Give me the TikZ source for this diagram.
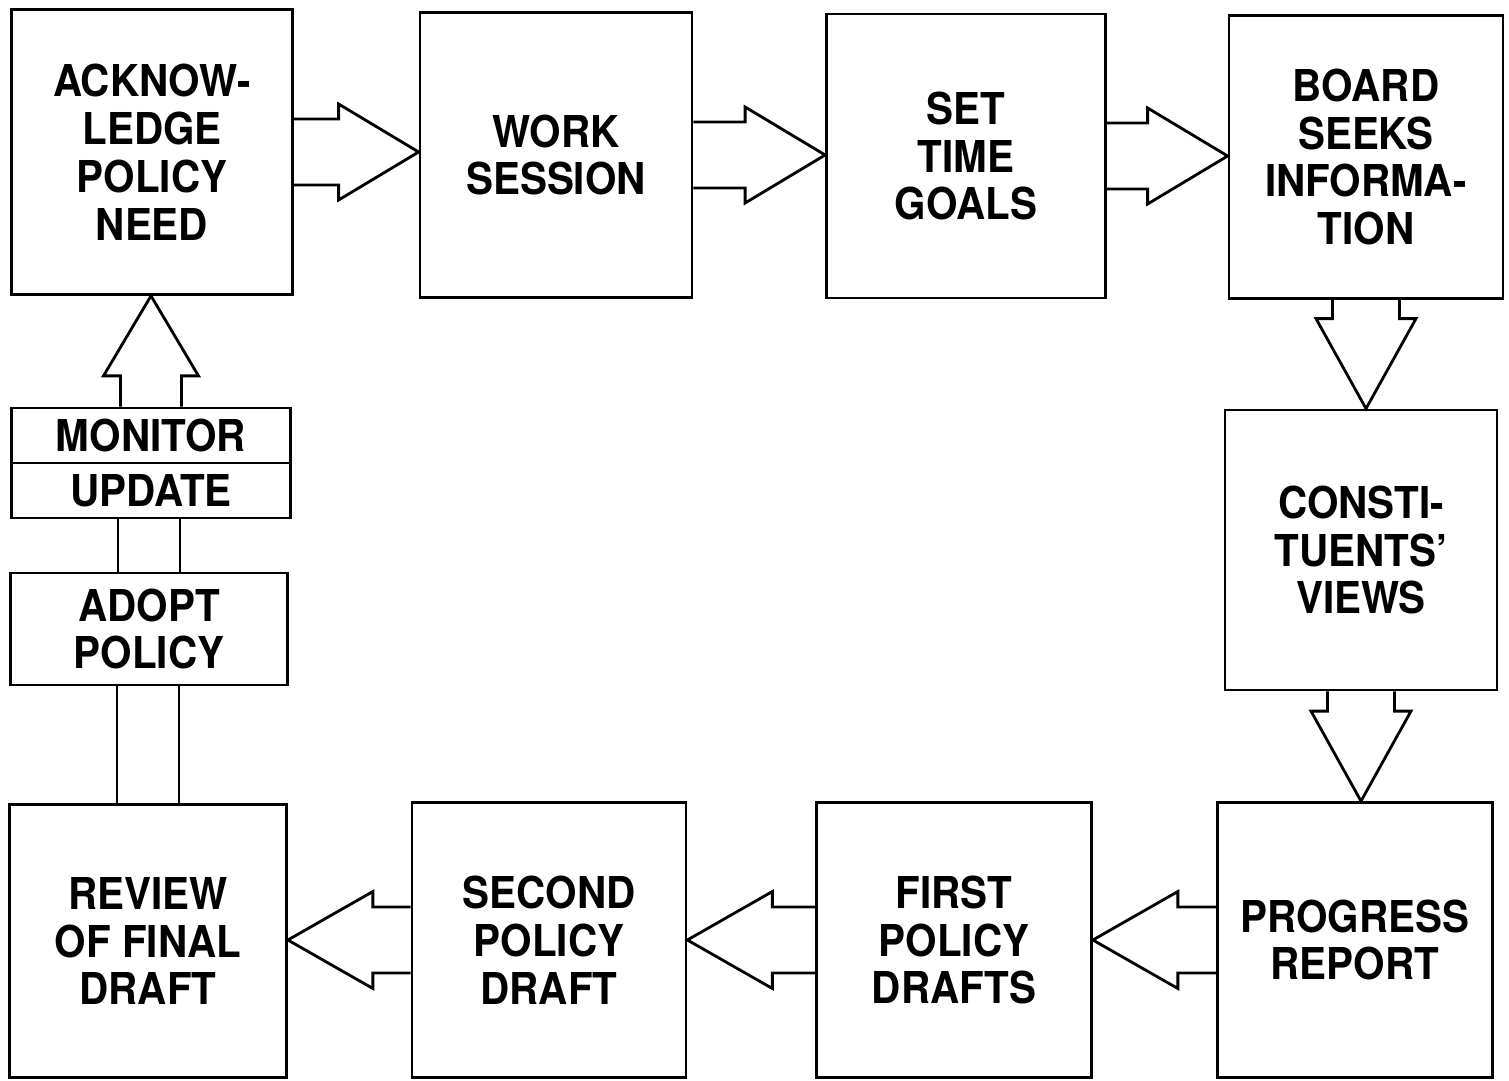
\documentclass[tikz,border=0pt]{standalone}
\usepackage{fontspec}
\setmainfont[FakeStretch=0.92]{TeX Gyre Heros}
\usetikzlibrary{calc,positioning}

% block arrows between stages
\newcommand{\rightblock}[2]{%
  \draw[blockline] let \p1=(#1.east), \p2=(#2.west) in
    (\x1,\y1+0.66cm) -- (\x2-1.6cm,\y1+0.66cm) -- (\x2-1.6cm,\y1+0.96cm) -- (\x2,\y1)
    -- (\x2-1.6cm,\y1-0.96cm) -- (\x2-1.6cm,\y1-0.66cm) -- (\x1,\y1-0.66cm);}
\newcommand{\leftblock}[2]{%
  \draw[blockline] let \p1=(#1.west), \p2=(#2.east) in
    (\x1,\y1+0.66cm) -- (\x2+1.7cm,\y1+0.66cm) -- (\x2+1.7cm,\y1+0.97cm) -- (\x2,\y1)
    -- (\x2+1.7cm,\y1-0.97cm) -- (\x2+1.7cm,\y1-0.66cm) -- (\x1,\y1-0.66cm);}
\newcommand{\downblock}[2]{%
  \draw[blockline] let \p1=(#1.south), \p2=(#2.north) in
    (\x1-0.67cm,\y1) -- (\x1-0.67cm,\y2+1.8cm) -- (\x1-1.0cm,\y2+1.8cm) -- (\x1,\y2)
    -- (\x1+1.0cm,\y2+1.8cm) -- (\x1+0.67cm,\y2+1.8cm) -- (\x1+0.67cm,\y1);}
\newcommand{\upblock}[2]{%
  \draw[blockline] let \p1=(#1.north), \p2=(#2.south) in
    (\x1-0.61cm,\y1) -- (\x1-0.61cm,\y2-1.6cm) -- (\x1-0.95cm,\y2-1.6cm) -- (\x1,\y2)
    -- (\x1+0.95cm,\y2-1.6cm) -- (\x1+0.61cm,\y2-1.6cm) -- (\x1+0.61cm,\y1);}
\newcommand{\pipe}[2]{%
  \draw[blockline] let \p1=(#1.north), \p2=(#2.south) in
    (\x1-0.62cm,\y1) -- (\x1-0.62cm,\y2) (\x1+0.62cm,\y1) -- (\x1+0.62cm,\y2);}

\begin{document}
\begin{tikzpicture}[x=0.02cm,y=-0.02cm,
  stage/.style={draw,line width=1.6pt,inner sep=0pt,align=center,
    font=\bfseries\fontsize{25}{27.3}\selectfont},
  blockline/.style={line width=1.6pt,line join=miter}]
  \useasboundingbox[fill=white] (0,0) rectangle (1509,1081);
  \node[stage,minimum width=5.62cm,minimum height=5.7cm] (ack) at (152,152) {ACKNOW-\\LEDGE\\POLICY\\NEED};
  \node[stage,minimum width=5.44cm,minimum height=5.7cm] (work) at (556,155) {WORK\\SESSION};
  \node[stage,minimum width=5.58cm,minimum height=5.68cm] (goals) at (966,156) {SET\\TIME\\GOALS};
  \node[stage,minimum width=5.48cm,minimum height=5.66cm] (board) at (1366,157) {BOARD\\SEEKS\\INFORMA-\\TION};
  \node[stage,minimum width=5.44cm,minimum height=5.6cm] (views) at (1361,550) {CONSTI-\\TUENTS'\\VIEWS};
  \node[stage,minimum width=5.5cm,minimum height=5.5cm] (progress) at (1355,940) {PROGRESS\\REPORT};
  \node[stage,minimum width=5.5cm,minimum height=5.5cm] (first) at (954,940) {FIRST\\POLICY\\DRAFTS};
  \node[stage,minimum width=5.48cm,minimum height=5.5cm] (second) at (549,940) {SECOND\\POLICY\\DRAFT};
  \node[stage,minimum width=5.54cm,minimum height=5.46cm] (review) at (148,941) {REVIEW\\OF FINAL\\DRAFT};
  \node[stage,minimum width=5.54cm,minimum height=2.24cm] (adopt) at (149,629) {ADOPT\\POLICY};
  \node[stage,minimum width=5.58cm,minimum height=1.1cm] (update) at (151,490.5) {UPDATE};
  \node[stage,minimum width=5.58cm,minimum height=1.1cm] (monitor) at (151,435.5) {MONITOR};
  \rightblock{ack}{work}
  \rightblock{work}{goals}
  \rightblock{goals}{board}
  \downblock{board}{views}
  \downblock{views}{progress}
  \leftblock{progress}{first}
  \leftblock{first}{second}
  \leftblock{second}{review}
  \pipe{review}{adopt}
  \pipe{adopt}{update}
  \upblock{monitor}{ack}
\end{tikzpicture}
\end{document}
